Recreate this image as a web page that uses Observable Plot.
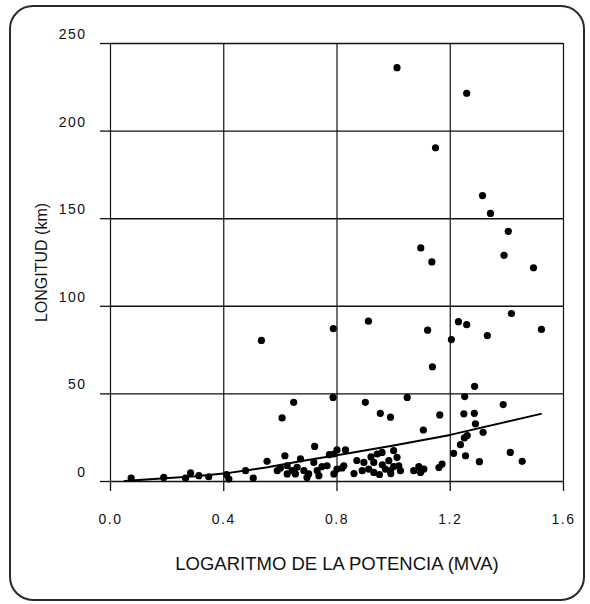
<!DOCTYPE html>
<html>
<head>
<meta charset="utf-8">
<script src="https://cdn.jsdelivr.net/npm/d3@7"></script>
<script src="https://cdn.jsdelivr.net/npm/@observablehq/plot@0.6"></script>
<style>
  html, body { margin: 0; padding: 0; background: #fff; }
  #wrap { position: relative; width: 590px; height: 604px; overflow: hidden; }
  #border { position: absolute; left: 9px; top: 5px; width: 572px; height: 592px;
            border: 2px solid #2a2a2a; border-radius: 24px; pointer-events: none; }
  #chart { position: absolute; left: 0; top: 0; }
  #chart svg { font-family: "Liberation Sans", Arial, sans-serif; }
  g[aria-label="x-axis label"] text { font-size: 18.5px; }
  g[aria-label="y-axis label"] text { font-size: 16px; }
  g[aria-label="x-axis tick label"] text, g[aria-label="y-axis tick label"] text { letter-spacing: 1.5px; }
</style>
</head>
<body>
<div id="wrap">
  <div id="chart"></div>
  <div id="border"></div>
</div>
<script>
// Scatter data: logarithm of power (MVA) vs line length (km)
const logPower = [
  0.073, 0.188, 0.265, 0.283, 0.312, 0.347, 0.41, 0.418, 0.477, 0.504,
  0.553, 0.533, 0.589, 0.60, 0.606, 0.616, 0.624, 0.624, 0.641, 0.647,
  0.653, 0.659, 0.671, 0.683, 0.694, 0.70, 0.718, 0.721, 0.73, 0.736,
  0.747, 0.765, 0.773, 0.786, 0.787, 0.789, 0.789, 0.80, 0.80, 0.818,
  0.824, 0.83, 0.889, 0.895, 0.90, 0.911, 0.912, 0.93, 0.93, 0.942,
  0.953, 0.959, 0.971, 0.983, 0.989, 0.989, 1.0, 1.012, 1.012, 1.018,
  1.024, 1.048, 1.071, 1.089, 1.095, 1.096, 1.105, 1.107, 1.12, 1.135,
  1.137, 1.148, 1.16, 1.163, 1.171, 1.204, 1.212, 1.229, 1.236, 1.248,
  1.25, 1.251, 1.254, 1.258, 1.258, 1.26, 1.285, 1.286, 1.289, 1.303,
  1.314, 1.316, 1.331, 1.342, 1.387, 1.39, 1.405, 1.412, 1.416, 1.454,
  1.494, 1.522, 0.86, 0.95, 0.99, 1.0, 0.96, 0.92, 0.87
];
const lengthKm = [
  2.0, 2.3, 2.0, 4.9, 3.3, 2.7, 3.9, 1.4, 6.2, 2.0,
  11.5, 80.5, 6.2, 7.7, 36.3, 14.7, 9.0, 4.3, 6.2, 45.2,
  4.3, 8.1, 12.9, 6.2, 2.3, 4.3, 10.9, 20.0, 6.2, 3.3,
  8.5, 9.0, 15.3, 48.0, 87.3, 4.3, 15.7, 7.1, 18.0, 7.7,
  9.0, 18.0, 6.2, 10.9, 45.2, 91.5, 7.1, 5.2, 10.9, 15.7,
  38.9, 16.6, 7.1, 11.9, 6.2, 36.7, 17.6, 13.8, 236.2, 9.0,
  6.2, 48.0, 6.2, 8.5, 5.2, 133.3, 29.4, 7.1, 86.4, 125.3,
  65.5, 190.5, 8.0, 38.0, 10.0, 81.0, 16.1, 91.2, 21.0, 38.6,
  24.9, 48.5, 14.7, 221.6, 89.5, 26.2, 38.9, 54.3, 32.9, 11.3,
  163.2, 28.1, 83.3, 153.0, 43.9, 129.1, 142.8, 16.6, 95.9, 11.5,
  122.0, 86.8, 4.5, 4.0, 4.5, 8.5, 9.5, 14.0, 12.0
];
// Fitted curve
const fitX = [0.05, 0.1, 0.3, 0.4, 0.55, 0.67, 0.8, 1.0, 1.2, 1.52];
const fitY = [0.3, 0.8, 3.0, 4.5, 8.0, 11.5, 15.0, 20.5, 26.6, 38.6];
// Axis ticks
const xTicks = [0.0, 0.4, 0.8, 1.2, 1.6];
const yTicks = [0, 50, 100, 150, 200, 250];

const points = logPower.map((x, i) => ({x, y: lengthKm[i]}));
const fit = fitX.map((x, i) => ({x, y: fitY[i]}));

const chart = Plot.plot({
  width: 590,
  height: 604,
  marginTop: 43,
  marginRight: 27,
  marginBottom: 123,
  marginLeft: 110,
  style: {fontSize: "14px", fontFamily: "Liberation Sans, Arial, sans-serif", color: "#111", background: "transparent"},
  x: {domain: [0, 1.6]},
  y: {domain: [0, 250]},
  marks: [
    Plot.ruleY(yTicks, {stroke: "#111", strokeWidth: 1.4}),
    Plot.ruleX(xTicks, {stroke: "#111", strokeWidth: 1.2}),
    // y tick lines only
    Plot.axisY({
      ticks: yTicks, tickSize: 10, tickFormat: () => "", stroke: "#111", strokeWidth: 1.3,
      label: null, ariaLabel: "y-axis ticks"
    }),
    // y tick labels, raised above their ticks as in the original
    Plot.axisY({
      ticks: yTicks, tickSize: 0, tickPadding: 24, dy: -9,
      tickFormat: d => String(d),
      label: "LONGITUD (km)", labelAnchor: "center", labelOffset: 75, labelArrow: "none"
    }),
    Plot.axisX({
      ticks: xTicks, tickSize: 10, tickPadding: 23,
      tickFormat: d3.format(".1f"), stroke: "#111", strokeWidth: 1.3,
      label: "LOGARITMO DE LA POTENCIA (MVA)", labelAnchor: "center", labelOffset: 88, labelArrow: "none"
    }),
    Plot.line(fit, {x: "x", y: "y", stroke: "#000", strokeWidth: 2}),
    Plot.dot(points, {x: "x", y: "y", r: 3.6, fill: "#000", stroke: "none"})
  ]
});
document.getElementById("chart").appendChild(chart);
</script>
</body>
</html>
